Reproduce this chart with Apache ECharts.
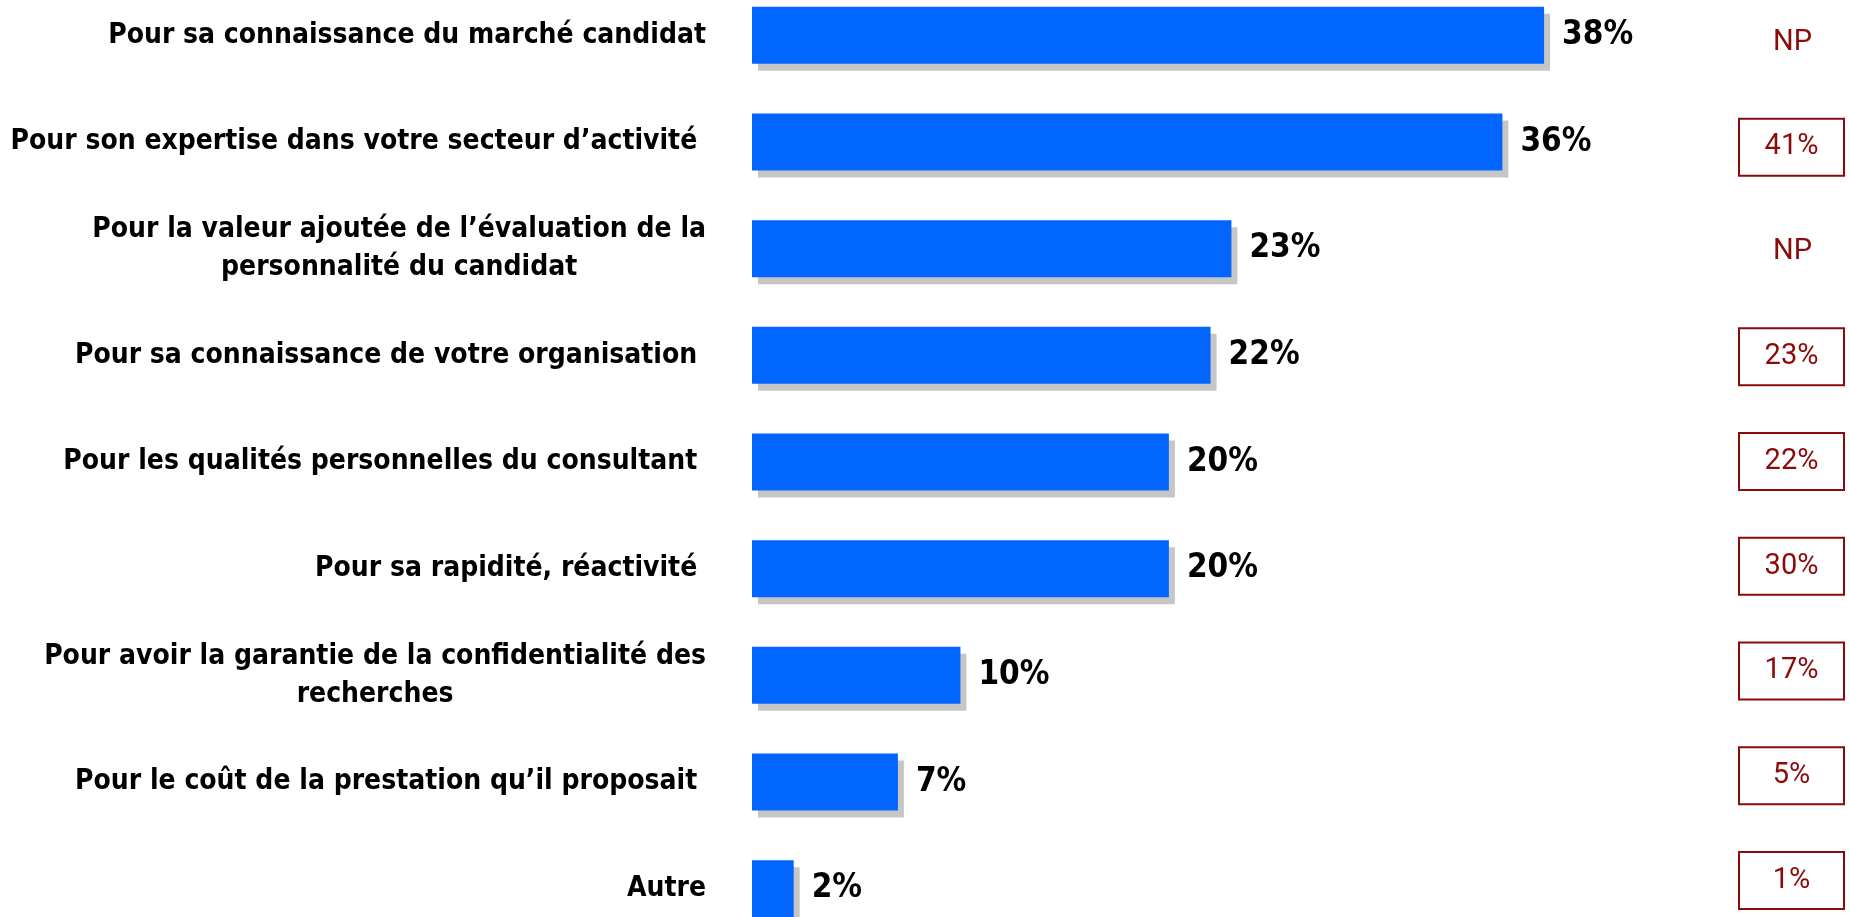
<!DOCTYPE html>
<html>
<head>
<meta charset="utf-8">
<script src="https://cdn.jsdelivr.net/npm/echarts@6/dist/echarts.min.js"></script>
<style>
  html, body { margin: 0; padding: 0; background: #fff; }
  #main { width: 1849px; height: 917px; }
</style>
</head>
<body>
<div id="main"></div>
<script>
// raisons du choix du cabinet (%)
const categories = [
  "Pour sa connaissance du marché candidat",
  "Pour son expertise dans votre secteur d’activité ",
  "Pour la valeur ajoutée de l’évaluation de la\npersonnalité du candidat",
  "Pour sa connaissance de votre organisation ",
  "Pour les qualités personnelles du consultant ",
  "Pour sa rapidité, réactivité ",
  "Pour avoir la garantie de la confidentialité des\nrecherches",
  "Pour le coût de la prestation qu’il proposait ",
  "Autre"
];
const values = [38, 36, 23, 22, 20, 20, 10, 7, 2];
// colonne de comparaison à droite
const compare = ["NP", "41%", "NP", "23%", "22%", "30%", "17%", "5%", "1%"];

const red = "#8b0a0a";

const chart = echarts.init(document.getElementById("main"));
chart.setOption({
  animation: false,
  grid: [
    { left: 752, width: 938, top: -18, height: 960, outerBoundsMode: "none" },
    { left: 1700, width: 10, top: -10, height: 943, outerBoundsMode: "none" }
  ],
  xAxis: [
    { type: "value", min: 0, max: 45, show: false },
    { type: "value", gridIndex: 1, show: false }
  ],
  yAxis: [
    {
      type: "category",
      data: categories,
      inverse: true,
      axisLine: { show: false },
      axisTick: { show: false },
      axisLabel: {
        margin: 46,
        formatter: (v) => v.split("\n").map((l) => "{c|" + l + "}").join("\n"),
        rich: {
          c: {
            align: "center",
            fontFamily: "'DejaVu Sans Condensed', 'DejaVu Sans', sans-serif",
            fontWeight: "bold",
            fontSize: 28,
            lineHeight: 38,
            color: "#000"
          }
        }
      }
    },
    {
      type: "category",
      gridIndex: 1,
      data: compare,
      inverse: true,
      position: "right",
      axisLine: { show: false },
      axisTick: { show: false },
      axisLabel: {
        margin: 29,
        align: "left",
        formatter: (v) => (v === "NP" ? "{np|" + v + "}" : "{box|" + v + "}"),
        rich: {
          np: {
            width: 107, align: "center",
            fontFamily: "Roboto", fontSize: 29, color: red
          },
          box: {
            width: 105, height: 57, align: "center",
            fontFamily: "Roboto", fontSize: 29, color: red,
            borderColor: red, borderWidth: 2
          }
        }
      }
    }
  ],
  series: [
    {
      type: "bar",
      data: values,
      barWidth: 57,
      itemStyle: {
        color: "#0066ff",
        shadowColor: "#c6c6c6",
        shadowOffsetX: 6,
        shadowOffsetY: 7,
        shadowBlur: 0
      },
      label: {
        show: true,
        position: "right",
        distance: 18,
        formatter: "{c}%",
        fontFamily: "'DejaVu Sans Condensed', sans-serif",
        fontWeight: "bold",
        fontSize: 33,
        color: "#000"
      }
    }
  ]
});
</script>
</body>
</html>
